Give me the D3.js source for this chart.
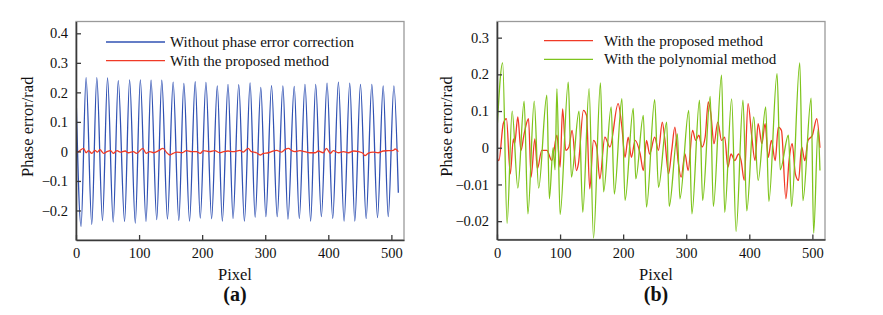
<!DOCTYPE html>
<html>
<head>
<meta charset="utf-8">
<script src="https://cdn.jsdelivr.net/npm/d3@7"></script>
<style>
  body { margin: 0; background: #fff; }
  svg { display: block; font-family: "Liberation Serif", "Times New Roman", serif; }
</style>
</head>
<body>
<svg id="chart" width="883" height="315"></svg>
<script>
// ---- data ----
const xTicks = [0, 100, 200, 300, 400, 500];
const xTickLabels = ["0", "100", "200", "300", "400", "500"];

const leftYTicks = [0.4, 0.3, 0.2, 0.1, 0, -0.1, -0.2];
const leftYLabels = ["0.4", "0.3", "0.2", "0.1", "0", "\u22120.1", "\u22120.2"];
const rightYTicks = [0.03, 0.02, 0.01, 0, -0.01, -0.02];
const rightYLabels = ["0.3", "0.2", "0.1", "0", "\u22120.01", "\u22120.02"];

const leftSeriesNames = ["Without phase error correction", "With the proposed method"];
const rightSeriesNames = ["With the proposed method", "With the polynomial method"];

// (a) without correction: turning points of the fringe-like error [pixel, rad]
const noCorrection = [
  [0, 0.2], [8, -0.254], [16, 0.25], [25, -0.247], [33, 0.25], [42, -0.234], [50, 0.249],
  [59, -0.239], [67, 0.24], [77, -0.237], [85, 0.242], [94, -0.243], [102, 0.242],
  [111, -0.237], [119, 0.241], [128, -0.231], [136, 0.241], [145, -0.229], [154, 0.235],
  [163, -0.234], [171, 0.23], [180, -0.236], [189, 0.236], [197, -0.226], [206, 0.234],
  [215, -0.228], [224, 0.222], [232, -0.236], [241, 0.227], [249, -0.227], [258, 0.226],
  [267, -0.236], [276, 0.232], [284, -0.223], [293, 0.217], [301, -0.221], [310, 0.223],
  [319, -0.221], [328, 0.222], [336, -0.229], [346, 0.22], [354, -0.227], [363, 0.227],
  [372, -0.236], [380, 0.227], [389, -0.221], [398, 0.231], [407, -0.227], [416, 0.235],
  [425, -0.236], [434, 0.231], [442, -0.236], [451, 0.227], [460, -0.227], [469, 0.227],
  [478, -0.224], [487, 0.222], [495, -0.221], [504, 0.222], [511, -0.14]
];

// (a) with the proposed method [pixel, rad]
const proposedA = [
  [0, -0.0065], [6, 0.0025], [12, 0.0105], [16, -0.0045], [20, 0.0025], [25, -0.0065],
  [30, 0.0036], [34, -0.0022], [38, 0.0059], [44, -0.0065], [49, -0.0009], [55, 0.0025],
  [59, -0.0065], [65, 0.0025], [70, -0.0022], [78, 0.0014], [83, -0.0045], [91, -0.0009],
  [96, -0.0065], [106, 0.0105], [111, -0.0065], [117, -0.0009], [123, -0.0045], [131, 0.0025],
  [138, 0.0105], [144, -0.0045], [149, -0.0122], [154, -0.0065], [160, -0.0022], [168, -0.0045],
  [175, 0.0025], [183, -0.0009], [191, -0.0009], [197, -0.0065], [202, 0.0025], [212, -0.0009],
  [220, 0.0025], [228, -0.0045], [234, -0.0009], [241, 0.0014], [249, -0.0009], [260, 0.0036],
  [265, -0.0022], [273, 0.0105], [278, -0.0009], [286, -0.0045], [292, -0.0122], [297, -0.0065],
  [305, -0.0045], [310, -0.0009], [318, 0.0036], [326, -0.0022], [331, 0.0059], [337, 0.0105],
  [342, 0.0025], [347, -0.0009], [355, 0.0025], [363, -0.0009], [371, -0.0045], [379, -0.0045],
  [384, 0.0014], [392, -0.0045], [397, 0.0105], [403, -0.0065], [408, 0.0025], [416, -0.0045],
  [424, -0.0009], [432, -0.0045], [440, 0.0014], [448, -0.0009], [455, -0.0065], [458, -0.0145],
  [463, -0.0065], [471, -0.0022], [479, -0.0045], [487, 0.0014], [495, 0.0025], [503, 0.0036],
  [506, 0.0082], [511, -0.0009]
];

// (b) with the proposed method [pixel, rad]
const proposedB = [
  [0, -0.0026], [3, -0.0035], [10, 0.0066], [15, 0.0079], [21, -0.0071], [26, 0.0024],
  [28, 0.0011], [33, 0.0084], [38, -0.0007], [43, 0.0038], [50, 0.0079], [54, -0.008],
  [60, 0.0024], [64, -0.0057], [71, -0.0007], [79, -0.0007], [87, -0.0035], [95, 0.0034],
  [100, -0.0053], [104, 0.0106], [109, -0.0007], [114, 0.0002], [119, 0.0047], [126, -0.0062],
  [129, -0.0044], [137, 0.0102], [142, 0.0088], [147, -0.0112], [153, 0.002], [158, 0.0002],
  [163, -0.0085], [171, 0.0029], [179, 0.0002], [192, 0.012], [198, 0.0056], [203, -0.0026],
  [208, 0.0029], [213, -0.0026], [219, 0.002], [227, -0.0017], [232, -0.0062], [237, 0.002],
  [242, -0.0017], [250, 0.0029], [256, -0.0007], [262, 0.007], [266, 0.0024], [272, -0.0071],
  [277, -0.0007], [282, 0.0056], [287, -0.0035], [292, -0.008], [298, -0.0017], [303, -0.0062],
  [310, 0.0047], [315, 0.002], [320, 0.0034], [325, 0.0002], [330, 0.0029], [335, 0.0125],
  [339, 0.0093], [344, 0.0011], [350, 0.007], [356, 0.002], [361, 0.0029], [366, -0.0053],
  [371, -0.0017], [377, -0.0035], [383, -0.0017], [387, -0.0035], [392, -0.0089], [398, 0.012],
  [404, 0.0029], [409, -0.0035], [414, 0.0066], [420, 0.0011], [425, 0.0066], [430, -0.0026],
  [435, 0.002], [441, -0.0035], [446, 0.0056], [451, 0.0047], [458, -0.0139], [463, -0.0035],
  [468, 0.0011], [473, -0.0071], [478, -0.0089], [483, 0.0002], [488, -0.0035], [493, 0.002],
  [500, 0.0034], [507, 0.0079], [512, 0.0]
];

// (b) with the polynomial method [pixel, rad]
const polynomialB = [
  [0, 0.0047], [9, 0.0231], [16, -0.0206], [24, 0.01], [33, -0.011], [43, 0.0127],
  [49, -0.018], [59, 0.0127], [66, -0.011], [79, 0.0143], [83, -0.0139], [89, 0.0],
  [92, -0.006], [95, 0.0161], [100, -0.0182], [113, 0.0179], [118, -0.008], [130, 0.01],
  [136, -0.0176], [146, 0.0161], [153, -0.0246], [164, 0.0177], [169, -0.012], [181, 0.0111],
  [186, -0.0126], [198, 0.0134], [203, -0.0144], [216, 0.0107], [220, -0.0085], [232, 0.0088],
  [237, -0.0162], [250, 0.0131], [256, -0.0108], [269, 0.007], [273, -0.016], [286, 0.0038],
  [290, -0.0139], [304, 0.0102], [309, -0.018], [321, 0.013], [326, -0.0144], [338, 0.014],
  [343, -0.016], [356, 0.0198], [361, -0.0176], [372, 0.0133], [379, -0.0228], [390, 0.013],
  [396, -0.0172], [407, 0.0084], [414, -0.0089], [426, 0.0111], [431, -0.0146], [444, 0.0202],
  [449, -0.006], [462, 0.0034], [467, -0.016], [480, 0.0231], [485, -0.0144], [498, 0.0135],
  [502, -0.0233], [509, 0.005], [512, -0.0062]
];

// ---- drawing ----
const svg = d3.select("#chart");
const xDomain = [0, 520];

function drawPanel(p) {
  const x = d3.scaleLinear().domain(xDomain).range([p.left, p.right]);
  const y = d3.scaleLinear().domain(p.yDomain).range([p.bottom, p.top]);
  const g = svg.append("g");

  // light frame
  g.append("rect")
    .attr("x", p.left).attr("y", p.top)
    .attr("width", p.right - p.left).attr("height", p.bottom - p.top)
    .attr("fill", "none").attr("stroke", "#9a9a9a").attr("stroke-width", 1.3);

  const clipId = "clip" + p.id;
  g.append("clipPath").attr("id", clipId).append("rect")
    .attr("x", p.left).attr("y", p.top)
    .attr("width", p.right - p.left).attr("height", p.bottom - p.top);

  const line = d3.line()
    .x(d => x(d[0])).y(d => y(d[1]))
    .curve(d3.curveMonotoneX);

  p.series.forEach(s => {
    g.append("path")
      .datum(s.values)
      .attr("clip-path", `url(#${clipId})`)
      .attr("fill", "none")
      .attr("stroke", s.color)
      .attr("stroke-width", 1.3)
      .attr("stroke-linejoin", "round")
      .attr("d", line);
  });

  // axes (ticks point inward)
  const xAxis = d3.axisBottom(x)
    .tickValues(xTicks)
    .tickFormat((d, i) => xTickLabels[i])
    .tickSizeInner(-5).tickSizeOuter(0).tickPadding(8);
  const yAxis = d3.axisLeft(y)
    .tickValues(p.yTicks)
    .tickFormat((d, i) => p.yLabels[i])
    .tickSizeInner(-5).tickSizeOuter(0).tickPadding(8);

  [g.append("g").attr("transform", `translate(0,${p.bottom})`).call(xAxis),
   g.append("g").attr("transform", `translate(${p.left},0)`).call(yAxis)]
    .forEach(a => {
      a.selectAll("path.domain").attr("stroke", "#3a3a3a").attr("stroke-width", 1.6);
      a.selectAll(".tick line").attr("stroke", "#3a3a3a").attr("stroke-width", 1.3);
      a.selectAll("text")
        .attr("fill", "#111")
        .style("font-family", "'Liberation Serif', 'Times New Roman', serif")
        .style("font-size", "14.5px");
    });

  // legend
  p.series.forEach((s, i) => {
    const ly = p.legend.y + i * p.legend.dy;
    g.append("line")
      .attr("x1", p.legend.x1).attr("x2", p.legend.x2)
      .attr("y1", ly).attr("y2", ly)
      .attr("stroke", s.color).attr("stroke-width", 1.3);
    g.append("text")
      .attr("x", p.legend.tx).attr("y", ly + 5)
      .attr("fill", "#111")
      .style("font-size", "15px")
      .text(s.name);
  });

  // titles
  const cx = (p.left + p.right) / 2 - 5;
  g.append("text")
    .attr("transform", `translate(${p.yTitleX},${(p.top + p.bottom) / 2 - 4}) rotate(-90)`)
    .attr("text-anchor", "middle")
    .attr("fill", "#111")
    .style("font-size", "16.5px")
    .text("Phase error/rad");
  g.append("text")
    .attr("x", cx).attr("y", 280)
    .attr("text-anchor", "middle")
    .attr("fill", "#111")
    .style("font-size", "16.5px")
    .text("Pixel");
  g.append("text")
    .attr("x", cx).attr("y", 301)
    .attr("text-anchor", "middle")
    .attr("fill", "#111")
    .style("font-size", "20px")
    .style("font-weight", "bold")
    .text(p.tag);
}

drawPanel({
  id: "a", left: 76, right: 404, top: 21.5, bottom: 240,
  yDomain: [-0.3, 0.44], yTicks: leftYTicks, yLabels: leftYLabels,
  yTitleX: 33, tag: "(a)",
  legend: {x1: 106, x2: 165, tx: 170, y: 42, dy: 18.7},
  series: [
    {name: leftSeriesNames[0], values: noCorrection, color: "#3152b3"},
    {name: leftSeriesNames[1], values: proposedA, color: "#f03a26"}
  ]
});

drawPanel({
  id: "b", left: 497, right: 825, top: 21.5, bottom: 239.5,
  yDomain: [-0.025, 0.0344], yTicks: rightYTicks, yLabels: rightYLabels,
  yTitleX: 452, tag: "(b)",
  legend: {x1: 544, x2: 593, tx: 604, y: 40.7, dy: 18.6},
  series: [
    {name: rightSeriesNames[0], values: proposedB, color: "#f03a26"},
    {name: rightSeriesNames[1], values: polynomialB, color: "#7ec41c"}
  ]
});
</script>
</body>
</html>
